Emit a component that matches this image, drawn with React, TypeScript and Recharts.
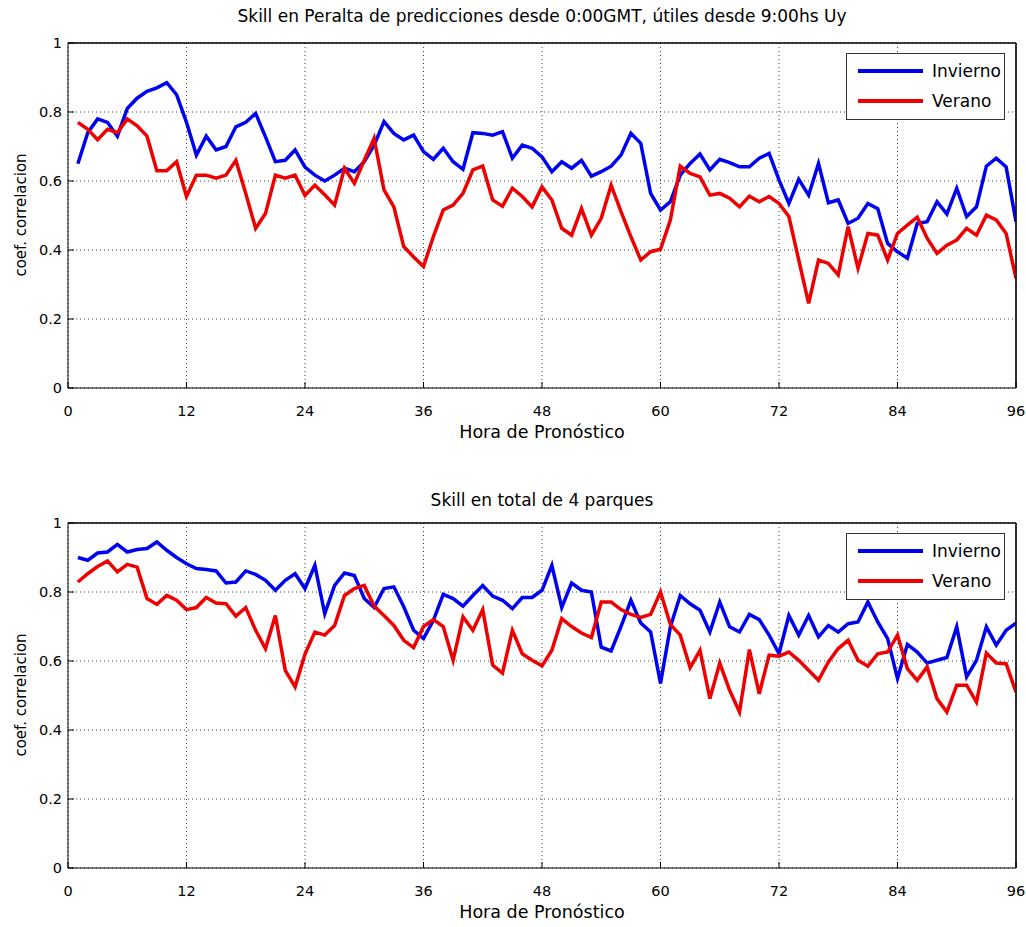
import { LineChart, Line, XAxis, YAxis, CartesianGrid, ReferenceLine } from 'recharts'

// horas de pronóstico 1..96
const hours = Array.from({ length: 96 }, (_, i) => i + 1)
const xTicks = [0, 12, 24, 36, 48, 60, 72, 84, 96]
const yTicks = [0, 0.2, 0.4, 0.6, 0.8, 1]

// Peralta
const peraltaInvierno = [
  0.65, 0.74, 0.78, 0.77, 0.73, 0.81, 0.84, 0.86, 0.87, 0.885, 0.85, 0.77,
  0.675, 0.73, 0.69, 0.70, 0.757, 0.77, 0.796, 0.728, 0.656, 0.66, 0.69, 0.64,
  0.617, 0.60, 0.617, 0.637, 0.627, 0.656, 0.704, 0.772, 0.738, 0.719, 0.733, 0.685,
  0.663, 0.695, 0.656, 0.634, 0.74, 0.738, 0.733, 0.743, 0.666, 0.704, 0.695, 0.67,
  0.627, 0.656, 0.637, 0.66, 0.614, 0.627, 0.643, 0.675, 0.738, 0.709, 0.564, 0.516,
  0.54, 0.617, 0.651, 0.678, 0.632, 0.663, 0.653, 0.641, 0.641, 0.666, 0.68, 0.603,
  0.535, 0.605, 0.559, 0.651, 0.537, 0.545, 0.477, 0.492, 0.535, 0.52, 0.419, 0.395,
  0.376, 0.477, 0.482, 0.54, 0.504, 0.579, 0.497, 0.525, 0.643, 0.666, 0.641, 0.482,
]
const peraltaVerano = [
  0.77, 0.75, 0.72, 0.75, 0.74, 0.78, 0.76, 0.73, 0.63, 0.63, 0.656, 0.555,
  0.617, 0.617, 0.608, 0.617, 0.66, 0.564, 0.463, 0.506, 0.617, 0.608, 0.617, 0.558,
  0.588, 0.56, 0.53, 0.637, 0.593, 0.66, 0.724, 0.574, 0.525, 0.41, 0.38, 0.352,
  0.439, 0.516, 0.53, 0.564, 0.632, 0.643, 0.545, 0.527, 0.579, 0.555, 0.525, 0.583,
  0.545, 0.463, 0.443, 0.52, 0.443, 0.492, 0.588, 0.511, 0.439, 0.371, 0.395, 0.402,
  0.487, 0.643, 0.622, 0.612, 0.559, 0.564, 0.55, 0.525, 0.556, 0.54, 0.555, 0.535,
  0.497, 0.371, 0.245, 0.371, 0.361, 0.328, 0.468, 0.347, 0.448, 0.443, 0.371, 0.448,
  0.472, 0.495, 0.434, 0.39, 0.414, 0.429, 0.463, 0.443, 0.501, 0.487, 0.448, 0.318,
]

// total de 4 parques
const totalInvierno = [
  0.90, 0.892, 0.913, 0.916, 0.938, 0.916, 0.923, 0.926, 0.945, 0.921, 0.90, 0.882,
  0.868, 0.865, 0.861, 0.826, 0.829, 0.861, 0.851, 0.834, 0.805, 0.834, 0.853, 0.81,
  0.877, 0.737, 0.819, 0.855, 0.848, 0.781, 0.755, 0.81, 0.815, 0.757, 0.689, 0.665,
  0.718, 0.793, 0.781, 0.759, 0.79, 0.819, 0.788, 0.776, 0.752, 0.784, 0.784, 0.805,
  0.877, 0.755, 0.826, 0.805, 0.80, 0.64, 0.629, 0.70, 0.776, 0.71, 0.684, 0.535,
  0.699, 0.79, 0.766, 0.747, 0.684, 0.771, 0.699, 0.684, 0.735, 0.72, 0.675, 0.621,
  0.732, 0.675, 0.732, 0.67, 0.703, 0.684, 0.708, 0.713, 0.771, 0.713, 0.665, 0.549,
  0.648, 0.626, 0.594, 0.602, 0.61, 0.699, 0.554, 0.602, 0.699, 0.646, 0.689, 0.71,
]
const totalVerano = [
  0.829, 0.853, 0.874, 0.89, 0.858, 0.88, 0.872, 0.781, 0.764, 0.79, 0.776, 0.749,
  0.755, 0.784, 0.768, 0.766, 0.73, 0.755, 0.689, 0.636, 0.732, 0.573, 0.525, 0.62,
  0.684, 0.675, 0.703, 0.79, 0.81, 0.819, 0.759, 0.732, 0.703, 0.66, 0.639, 0.70,
  0.72, 0.70, 0.602, 0.728, 0.689, 0.749, 0.588, 0.565, 0.689, 0.621, 0.602, 0.586,
  0.631, 0.723, 0.70, 0.681, 0.668, 0.771, 0.771, 0.749, 0.735, 0.726, 0.735, 0.80,
  0.706, 0.675, 0.581, 0.631, 0.491, 0.594, 0.515, 0.452, 0.633, 0.505, 0.617, 0.614,
  0.626, 0.602, 0.573, 0.544, 0.597, 0.636, 0.66, 0.602, 0.585, 0.621, 0.626, 0.675,
  0.578, 0.544, 0.583, 0.491, 0.452, 0.53, 0.53, 0.481, 0.623, 0.594, 0.592, 0.51,
]

const BLUE = '#0000f0'
const RED = '#ee0000'
const FONT = '"DejaVu Sans", Verdana, sans-serif'

const W = 1026
const H = 460

function Panel({ top, titleTop, title, invierno, verano }: { top: number; titleTop: number; title: string; invierno: number[]; verano: number[] }) {
  const data = hours.map((h, i) => ({ h, invierno: invierno[i], verano: verano[i] }))
  const tickStyle = { fill: '#000', fontSize: 14.5, fontFamily: FONT }
  return (
    <div style={{ position: 'absolute', left: 0, top, width: W, height: H }}>
      <LineChart width={W} height={H} data={data} margin={{ top: 33, right: 0, bottom: 42, left: 18 }}>
        <CartesianGrid stroke="#444" strokeDasharray="1 3" />
        <XAxis
          dataKey="h"
          type="number"
          domain={[0, 96]}
          ticks={xTicks}
          allowDataOverflow
          height={30}
          stroke="#000"
          tick={tickStyle}
          tickSize={-6}
          tickMargin={24}
        />
        <XAxis
          xAxisId="top"
          orientation="top"
          type="number"
          domain={[0, 96]}
          ticks={xTicks}
          height={10}
          stroke="#000"
          tick={false}
          tickSize={-6}
        />
        <YAxis
          type="number"
          domain={[0, 1]}
          ticks={yTicks}
          width={50}
          stroke="#000"
          tick={tickStyle}
          tickSize={-6}
          tickMargin={12}
        />
        <YAxis
          yAxisId="right"
          orientation="right"
          type="number"
          domain={[0, 1]}
          ticks={yTicks}
          width={10}
          stroke="#000"
          tick={false}
          tickSize={-6}
        />
        {/* marco superior y derecho */}
        <ReferenceLine y={1} stroke="#000" strokeWidth={1.2} ifOverflow="visible" />
        <ReferenceLine x={96} stroke="#000" strokeWidth={1.2} ifOverflow="visible" />
        <Line dataKey="invierno" stroke={BLUE} strokeWidth={3.5} dot={false} isAnimationActive={false} />
        <Line dataKey="verano" stroke={RED} strokeWidth={3.5} dot={false} isAnimationActive={false} />
      </LineChart>
      <div style={{ position: 'absolute', left: 68, width: 948, top: titleTop, textAlign: 'center', fontSize: 17, fontFamily: FONT }}>
        {title}
      </div>
      <div style={{ position: 'absolute', left: 68, width: 948, top: 422, textAlign: 'center', fontSize: 17.5, fontFamily: FONT }}>
        Hora de Pronóstico
      </div>
      <div
        style={{
          position: 'absolute',
          left: 21,
          top: 215,
          transform: 'translate(-50%, -50%) rotate(-90deg)',
          whiteSpace: 'nowrap',
          fontSize: 15,
          fontFamily: FONT,
        }}
      >
        coef. correlacion
      </div>
      <div
        style={{
          position: 'absolute',
          left: 846,
          top: 53,
          width: 159,
          height: 67,
          background: '#fff',
          border: '1px solid #333',
          boxSizing: 'border-box',
          fontFamily: FONT,
          fontSize: 17,
        }}
      >
        {[
          { name: 'Invierno', color: BLUE },
          { name: 'Verano', color: RED },
        ].map((s, i) => (
          <div key={s.name} style={{ position: 'absolute', left: 11, top: 6 + i * 30, height: 22, display: 'flex', alignItems: 'center' }}>
            <div style={{ width: 65, height: 4, background: s.color }} />
            <span style={{ marginLeft: 9 }}>{s.name}</span>
          </div>
        ))}
      </div>
    </div>
  )
}

export default function App() {
  return (
    <div style={{ position: 'absolute', left: 0, top: 0, width: W, height: 927, background: '#fff' }}>
      <Panel
        top={0}
        titleTop={6}
        title="Skill en Peralta de predicciones desde 0:00GMT, útiles desde 9:00hs Uy"
        invierno={peraltaInvierno}
        verano={peraltaVerano}
      />
      <Panel top={480} titleTop={10} title="Skill en total de 4 parques" invierno={totalInvierno} verano={totalVerano} />
    </div>
  )
}
